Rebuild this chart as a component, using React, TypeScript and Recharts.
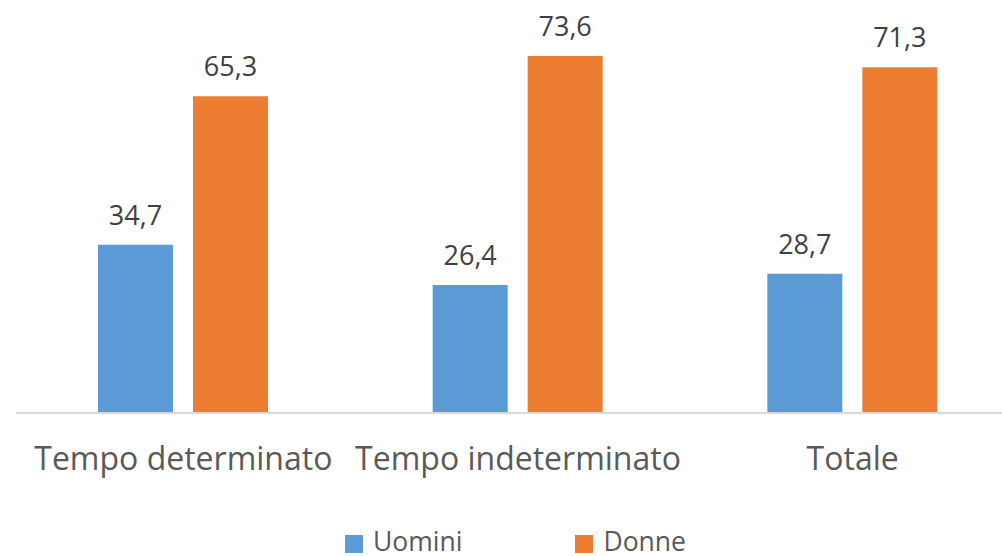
import { Bar, BarChart, LabelList, Legend, XAxis, YAxis } from "recharts";

const categories = ["Tempo determinato", "Tempo indeterminato", "Totale"];
const uomini = [34.7, 26.4, 28.7];
const donne = [65.3, 73.6, 71.3];
const seriesNames = ["Uomini", "Donne"];

const data = categories.map((name, i) => ({
  name,
  Uomini: uomini[i],
  Donne: donne[i],
}));

const colors: Record<string, string> = { Uomini: "#5B9BD5", Donne: "#ED7D31" };
const font = "'Open Sans', sans-serif";

const fmt = (v: any) => String(v).replace(".", ",");

function LegendContent(props: any) {
  const items = [...(props.payload || [])].sort(
    (a: any, b: any) => seriesNames.indexOf(a.value) - seriesNames.indexOf(b.value)
  );
  return (
    <div
      style={{
        display: "flex",
        alignItems: "flex-end",
        height: 30,
        paddingLeft: 345,
        fontFamily: font,
        fontSize: 26.5,
        color: "#595959",
        lineHeight: "30px",
      }}
    >
      {items.map((it: any, i: number) => (
        <div
          key={it.value}
          style={{ display: "flex", alignItems: "center", marginRight: i === 0 ? 113 : 0 }}
        >
          <span
            style={{
              display: "inline-block",
              width: 18,
              height: 18,
              background: it.color,
              marginRight: 10,
              marginTop: 6,
            }}
          />
          <span>{it.value}</span>
        </div>
      ))}
    </div>
  );
}

export default function App() {
  return (
    <div
      style={{
        position: "absolute",
        left: 0,
        top: 0,
        width: 1002,
        height: 556,
        overflow: "hidden",
        background: "#fff",
      }}
    >
      <BarChart
        width={1020}
        height={556}
        data={data}
        margin={{ top: 25, right: 0, bottom: 0, left: 16 }}
        barSize={75}
        barGap={20}
      >
        <XAxis
          dataKey="name"
          height={113}
          tickLine={false}
          tickSize={0}
          tickMargin={34}
          axisLine={{ stroke: "#D9D9D9", strokeWidth: 2 }}
          tick={{ fill: "#595959", fontSize: 32, fontFamily: font }}
          interval={0}
        />
        <YAxis hide domain={[0, 80]} />
        <Legend
          verticalAlign="bottom"
          align="left"
          content={LegendContent}
          wrapperStyle={{ left: 0, width: 1020 }}
        />
        {seriesNames.map((key) => (
          <Bar key={key} dataKey={key} fill={colors[key]} isAnimationActive={false}>
            <LabelList
              dataKey={key}
              position="top"
              offset={20}
              formatter={fmt}
              style={{ fill: "#404040", fontSize: 27, fontFamily: font }}
            />
          </Bar>
        ))}
      </BarChart>
    </div>
  );
}
